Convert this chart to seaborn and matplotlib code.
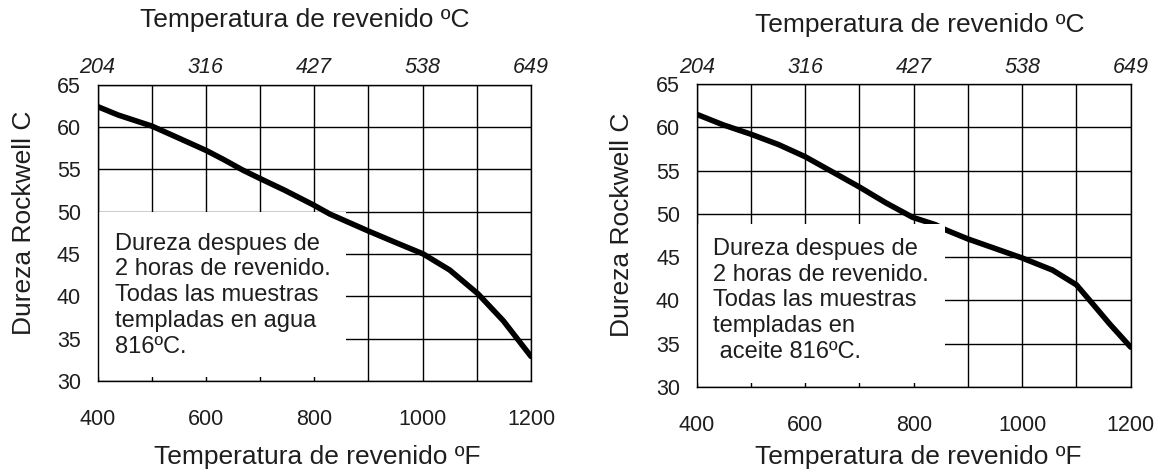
import numpy as np
import pandas as pd
import matplotlib
matplotlib.use("Agg")
import matplotlib.pyplot as plt
import seaborn as sns
from matplotlib.patches import Rectangle

# ---------------- data ----------------
agua_F = [400, 438, 500, 549, 601, 634, 668, 700, 746, 798, 829, 900, 952, 1001, 1050, 1102, 1149, 1200]
agua_HRC = [62.4, 61.4, 60.1, 58.7, 57.2, 56.1, 54.9, 53.9, 52.5, 50.8, 49.7, 47.7, 46.3, 45.0, 43.1, 40.3, 37.1, 32.9]

aceite_F = [400, 448, 500, 551, 600, 643, 700, 748, 798, 840, 859, 900, 950, 1000, 1056, 1100, 1130, 1161, 1200]
aceite_HRC = [61.5, 60.3, 59.2, 58.0, 56.6, 55.1, 53.1, 51.3, 49.6, 48.75, 48.15, 47.1, 46.0, 44.9, 43.5, 41.8, 39.6, 37.3, 34.6]

f_ticks = [400, 600, 800, 1000, 1200]
f_grid = [400, 500, 600, 700, 800, 900, 1000, 1100, 1200]
c_labels = ["204", "316", "427", "538", "649"]
hrc_ticks = [30, 35, 40, 45, 50, 55, 60, 65]

note_agua = "Dureza despues de\n2 horas de revenido.\nTodas las muestras\ntempladas en agua\n816ºC."
note_aceite = "Dureza despues de\n2 horas de revenido.\nTodas las muestras\ntempladas en\n aceite 816ºC."

title_C = "Temperatura de revenido ºC"
title_F = "Temperatura de revenido ºF"
ylab = "Dureza Rockwell C"

# ---------------- style ----------------
sns.set_theme(style="white")
plt.rcParams["font.family"] = ["Liberation Sans", "DejaVu Sans"]
plt.rcParams["axes.axisbelow"] = True

fig = plt.figure(figsize=(11.65, 4.76), dpi=100)

W, H = 1165, 476
def axes_rect(l, r, t, b):
    return [l / W, 1 - b / H, (r - l) / W, (b - t) / H]

ax1 = fig.add_axes(axes_rect(97.5, 531, 84.5, 381))
ax2 = fig.add_axes(axes_rect(696.7, 1130.7, 84, 387))

df1 = pd.DataFrame({"F": agua_F, "HRC": agua_HRC})
df2 = pd.DataFrame({"F": aceite_F, "HRC": aceite_HRC})

TXT = "#1e1e1e"
configs = [
    (ax1, df1, note_agua, 50.0, 3, (0.040, 0.500),
     dict(top=1.218, bottom=-0.256, left=-0.170, ly=0.533, tx=0.479, bx=0.506)),
    (ax2, df2, note_aceite, 48.8, 0.8, (0.038, 0.492),
     dict(top=1.195, bottom=-0.230, left=-0.171, ly=0.535, tx=0.515, bx=0.510)),
]

for ax, df, note, box_top, line_z, txt_pos, lab in configs:
    sns.lineplot(data=df, x="F", y="HRC", ax=ax, color="black", linewidth=4.0,
                 zorder=line_z, legend=False)
    ax.set_xlim(400, 1200)
    ax.set_ylim(30, 65)
    ax.set_xticks(f_grid)
    ax.set_xticklabels([str(v) if v in f_ticks else "" for v in f_grid], fontsize=15.5)
    ax.set_yticks(hrc_ticks)
    ax.set_yticklabels([str(v) for v in hrc_ticks], fontsize=15.5)
    ax.tick_params(axis="x", which="both", length=0, pad=20, colors=TXT)
    ax.tick_params(axis="y", which="both", length=0, pad=12, colors=TXT)
    ax.grid(True, color="black", linewidth=1.0)
    for s in ax.spines.values():
        s.set_color("black")
        s.set_linewidth(1.0)
    # white note box covering part of the grid
    ax.add_patch(Rectangle((400, 30.45), 458, box_top - 30.45, facecolor="white",
                           edgecolor="none", zorder=1))
    ax.text(txt_pos[0], txt_pos[1], note, transform=ax.transAxes, ha="left", va="top",
            fontsize=17, linespacing=1.22, color=TXT, zorder=4)

    ax.set_xlabel(title_F, fontsize=19, color=TXT, va="center")
    ax.xaxis.set_label_coords(lab["bx"], lab["bottom"])
    ax.set_ylabel(ylab, fontsize=19, color=TXT, va="center")
    ax.yaxis.set_label_coords(lab["left"], lab["ly"])

    sec = ax.secondary_xaxis("top")
    sec.set_xticks(f_ticks)
    sec.set_xticklabels(c_labels, fontsize=15.5, fontstyle="italic")
    sec.tick_params(axis="x", length=0, pad=4.5, colors=TXT)
    sec.spines["top"].set_visible(False)
    ax.text(lab["tx"], lab["top"], title_C, transform=ax.transAxes, ha="center",
            va="center", fontsize=19, color=TXT)

fig.savefig("out.png", dpi=100, facecolor="white")
